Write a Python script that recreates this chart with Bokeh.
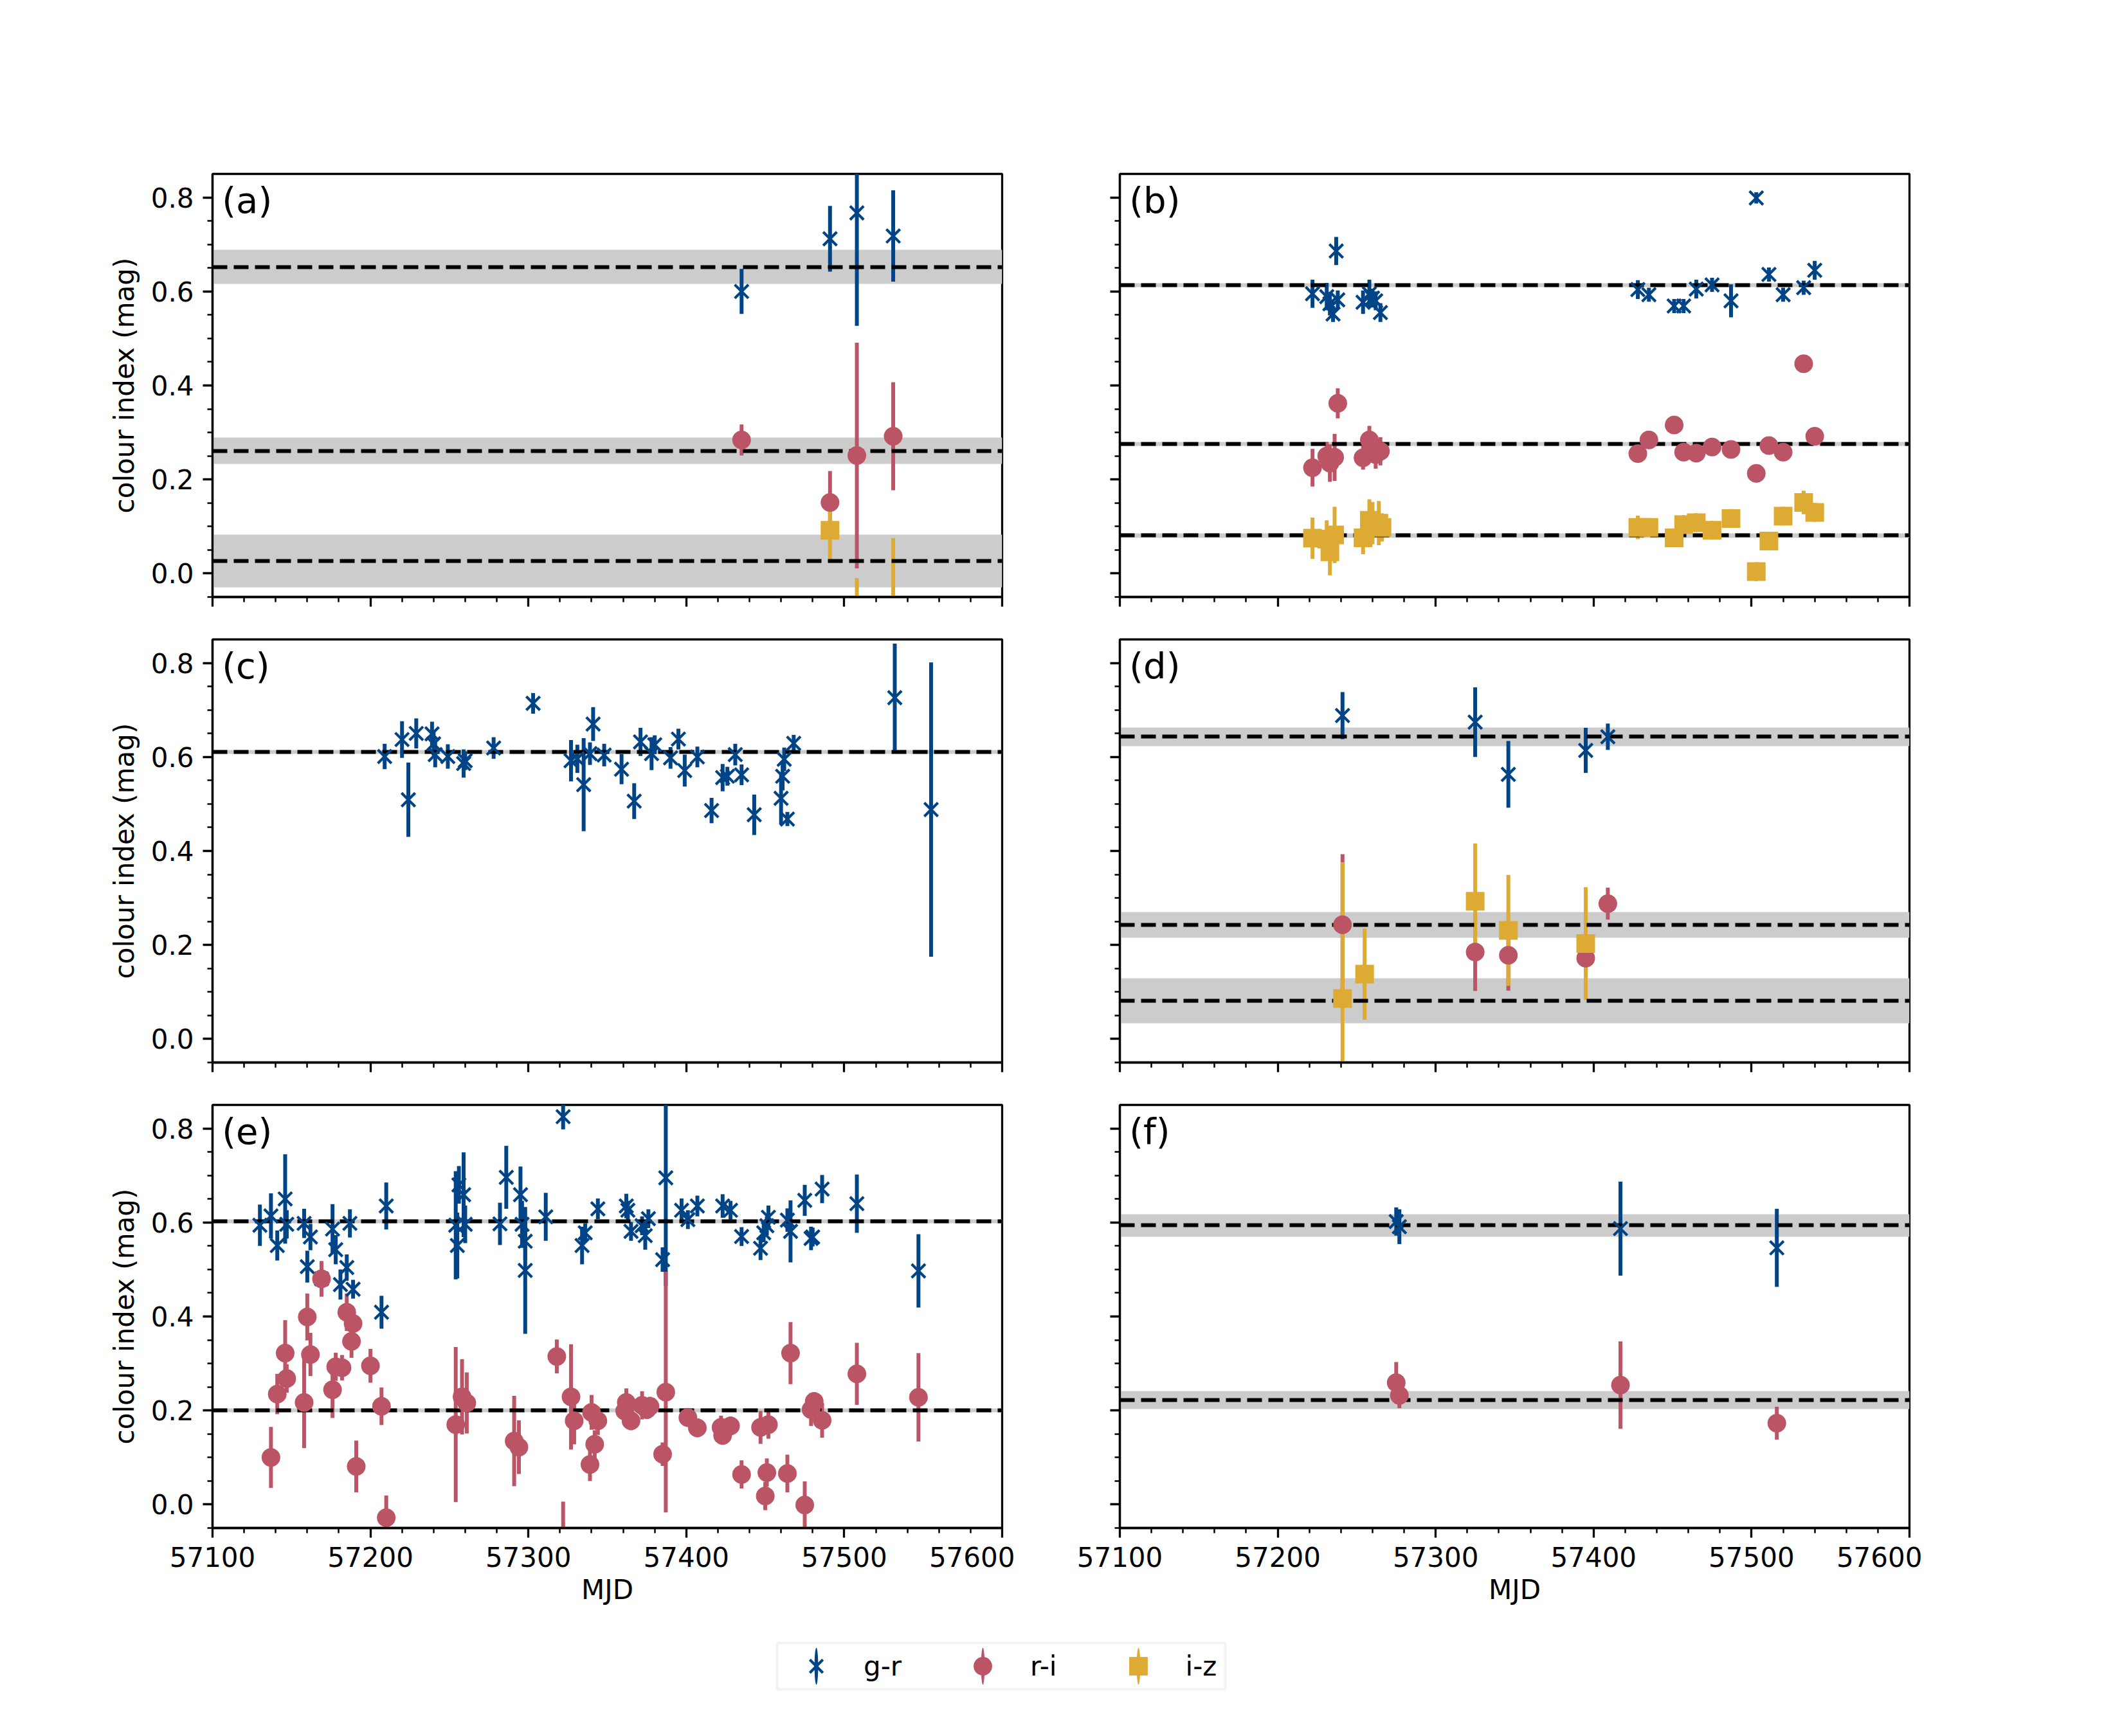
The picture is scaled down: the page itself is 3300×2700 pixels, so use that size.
import numpy as np
from bokeh.plotting import figure
from bokeh.layouts import column, row
from bokeh.models import (Range1d, SingleIntervalTicker, PrintfTickFormatter, Label,
                          Legend, LegendItem, ColumnDataSource, BoxAnnotation)
from bokeh.embed import file_html
from bokeh.resources import INLINE

# ---------------- data ----------------
# panel (a)
a_gr_mjd = [57435, 57491, 57508, 57531]
a_gr_val = [0.600, 0.712, 0.767, 0.718]
a_gr_err = [0.048, 0.070, 0.240, 0.097]
a_ri_mjd = [57435, 57491, 57508, 57531]
a_ri_val = [0.284, 0.151, 0.251, 0.292]
a_ri_err = [0.033, 0.067, 0.240, 0.115]
a_iz_mjd = [57491, 57508, 57531]
a_iz_val = [0.092, -0.300, -0.120]
a_iz_err = [0.065, 0.290, 0.195]
a_mean = [0.652, 0.261, 0.026]
a_std = [0.036, 0.028, 0.056]

# panel (b)
b_gr_mjd = [57222, 57231, 57233, 57235, 57237, 57238, 57254, 57258, 57260, 57262, 57265,
            57428, 57435, 57451, 57457, 57465, 57475, 57487, 57503, 57511, 57520, 57533, 57540]
b_gr_val = [0.595, 0.589, 0.574, 0.552, 0.686, 0.582, 0.577, 0.595, 0.586, 0.580, 0.555,
            0.604, 0.593, 0.569, 0.569, 0.605, 0.614, 0.580, 0.799, 0.636, 0.593, 0.608, 0.645]
b_gr_err = [0.030, 0.029, 0.025, 0.017, 0.030, 0.020, 0.025, 0.030, 0.020, 0.020, 0.020,
            0.020, 0.015, 0.015, 0.015, 0.020, 0.015, 0.035, 0.012, 0.015, 0.015, 0.015, 0.020]
b_ri_mjd = [57222, 57231, 57233, 57236, 57238, 57254, 57258, 57260, 57262, 57265,
            57428, 57435, 57451, 57457, 57465, 57475, 57487, 57503, 57511, 57520, 57533, 57540]
b_ri_val = [0.225, 0.250, 0.235, 0.247, 0.362, 0.246, 0.284, 0.269, 0.253, 0.260,
            0.255, 0.284, 0.316, 0.258, 0.256, 0.269, 0.264, 0.213, 0.272, 0.258, 0.446, 0.292]
b_ri_err = [0.040, 0.030, 0.040, 0.050, 0.032, 0.025, 0.030, 0.030, 0.030, 0.030,
            0.010, 0.010, 0.010, 0.010, 0.010, 0.010, 0.010, 0.010, 0.010, 0.010, 0.010, 0.010]
b_iz_mjd = [57222, 57231, 57233, 57236, 57254, 57258, 57260, 57264, 57266,
            57428, 57435, 57451, 57457, 57465, 57475, 57487, 57503, 57511, 57520, 57533, 57540]
b_iz_val = [0.075, 0.073, 0.046, 0.082, 0.076, 0.113, 0.107, 0.107, 0.098,
            0.098, 0.098, 0.076, 0.104, 0.108, 0.092, 0.117, 0.004, 0.069, 0.122, 0.151, 0.130]
b_iz_err = [0.044, 0.040, 0.050, 0.060, 0.035, 0.045, 0.045, 0.047, 0.030,
            0.025, 0.020, 0.020, 0.020, 0.020, 0.020, 0.020, 0.020, 0.010, 0.020, 0.025, 0.020]
b_mean = [0.613, 0.275, 0.081]
b_std = [0.004, 0.004, 0.005]

# panel (c)
c_gr_mjd = [57209, 57220, 57224, 57229, 57239, 57240, 57241, 57249, 57259, 57260,
            57278, 57303, 57327, 57331, 57335, 57339, 57341, 57348, 57359, 57367,
            57371, 57378, 57380, 57390, 57395, 57399, 57407, 57416, 57423, 57426,
            57431, 57435, 57443, 57460, 57461, 57462, 57464, 57468, 57532, 57555]
c_gr_val = [0.601, 0.637, 0.509, 0.650, 0.649, 0.628, 0.605, 0.601, 0.586, 0.592,
            0.619, 0.714, 0.592, 0.596, 0.541, 0.607, 0.670, 0.604, 0.574, 0.506,
            0.632, 0.607, 0.626, 0.598, 0.638, 0.571, 0.600, 0.486, 0.556, 0.559,
            0.605, 0.562, 0.477, 0.512, 0.559, 0.595, 0.468, 0.629, 0.726, 0.488]
c_gr_err = [0.027, 0.039, 0.079, 0.032, 0.026, 0.025, 0.027, 0.026, 0.030, 0.020,
            0.023, 0.022, 0.044, 0.030, 0.099, 0.024, 0.036, 0.024, 0.032, 0.038,
            0.030, 0.035, 0.020, 0.023, 0.022, 0.034, 0.022, 0.027, 0.029, 0.020,
            0.023, 0.022, 0.043, 0.056, 0.030, 0.025, 0.015, 0.018, 0.115, 0.313]
c_mean = [0.611]
c_std = [0.004]

# panel (d)
d_gr_mjd = [57241, 57325, 57346, 57395, 57409]
d_gr_val = [0.688, 0.674, 0.563, 0.614, 0.643]
d_gr_err = [0.050, 0.074, 0.071, 0.048, 0.028]
d_ri_mjd = [57241, 57325, 57346, 57395, 57409]
d_ri_val = [0.243, 0.185, 0.178, 0.172, 0.288]
d_ri_err = [0.150, 0.083, 0.075, 0.030, 0.034]
d_iz_mjd = [57241, 57255, 57325, 57346, 57395]
d_iz_val = [0.086, 0.138, 0.293, 0.231, 0.203]
d_iz_err = [0.290, 0.097, 0.123, 0.118, 0.120]
d_mean = [0.643, 0.243, 0.081]
d_std = [0.020, 0.027, 0.048]

# panel (e)
e_gr_mjd = [57130, 57137, 57141, 57146, 57147, 57158, 57160, 57162, 57169, 57176,
            57178, 57181, 57185, 57187, 57189, 57207, 57210, 57254, 57255, 57256,
            57259, 57260, 57282, 57286, 57295, 57296, 57298, 57298, 57311, 57322,
            57334, 57336, 57344, 57362, 57363, 57365, 57372, 57374, 57376, 57385,
            57387, 57397, 57401, 57407, 57423, 57428, 57435, 57447, 57449, 57451,
            57452, 57464, 57466, 57475, 57479, 57480, 57486, 57508, 57547]
e_gr_val = [0.594, 0.614, 0.551, 0.650, 0.596, 0.598, 0.506, 0.569, 0.480, 0.586,
            0.542, 0.468, 0.504, 0.598, 0.458, 0.409, 0.635, 0.594, 0.551, 0.680,
            0.659, 0.596, 0.597, 0.696, 0.659, 0.596, 0.560, 0.498, 0.612, 0.825,
            0.551, 0.578, 0.629, 0.635, 0.626, 0.581, 0.593, 0.572, 0.608, 0.521,
            0.695, 0.626, 0.606, 0.635, 0.635, 0.626, 0.570, 0.545, 0.578, 0.593,
            0.611, 0.605, 0.581, 0.647, 0.566, 0.569, 0.671, 0.640, 0.497]
e_gr_err = [0.044, 0.048, 0.032, 0.095, 0.030, 0.031, 0.034, 0.028, 0.020, 0.053,
            0.031, 0.032, 0.028, 0.030, 0.020, 0.035, 0.050, 0.115, 0.070, 0.040,
            0.090, 0.040, 0.045, 0.067, 0.060, 0.050, 0.040, 0.135, 0.051, 0.027,
            0.040, 0.020, 0.022, 0.026, 0.020, 0.020, 0.020, 0.030, 0.020, 0.026,
            0.230, 0.025, 0.020, 0.022, 0.025, 0.020, 0.020, 0.025, 0.020, 0.020,
            0.025, 0.025, 0.066, 0.033, 0.025, 0.020, 0.030, 0.062, 0.078]
e_ri_mjd = [57137, 57141, 57146, 57147, 57158, 57160, 57162, 57169, 57176, 57178,
            57182, 57185, 57188, 57189, 57191, 57200, 57207, 57210, 57254, 57258,
            57261, 57291, 57294, 57318, 57322, 57327, 57329, 57339, 57340, 57342,
            57344, 57361, 57362, 57365, 57372, 57375, 57377, 57385, 57387, 57401,
            57407, 57422, 57423, 57428, 57435, 57447, 57450, 57451, 57452, 57464,
            57466, 57475, 57479, 57481, 57486, 57508, 57547]
e_ri_val = [0.100, 0.235, 0.322, 0.268, 0.217, 0.399, 0.319, 0.480, 0.244, 0.293,
            0.291, 0.409, 0.347, 0.385, 0.081, 0.295, 0.209, -0.028, 0.170, 0.229,
            0.216, 0.135, 0.122, 0.315, -0.100, 0.229, 0.178, 0.085, 0.196, 0.128,
            0.178, 0.199, 0.217, 0.178, 0.211, 0.202, 0.209, 0.107, 0.239, 0.185,
            0.163, 0.164, 0.147, 0.167, 0.064, 0.164, 0.018, 0.068, 0.170, 0.066,
            0.322, -0.001, 0.202, 0.219, 0.179, 0.278, 0.228]
e_ri_err = [0.065, 0.043, 0.070, 0.030, 0.097, 0.050, 0.046, 0.038, 0.060, 0.030,
            0.027, 0.040, 0.035, 0.030, 0.055, 0.036, 0.040, 0.047, 0.165, 0.080,
            0.065, 0.096, 0.057, 0.036, 0.106, 0.112, 0.050, 0.035, 0.037, 0.030,
            0.030, 0.020, 0.030, 0.020, 0.030, 0.020, 0.020, 0.025, 0.256, 0.020,
            0.020, 0.025, 0.020, 0.020, 0.030, 0.035, 0.030, 0.030, 0.030, 0.040,
            0.066, 0.050, 0.035, 0.020, 0.037, 0.066, 0.094]
e_mean = [0.603, 0.200]
e_std = [0.004, 0.004]

# panel (f)
f_gr_mjd = [57275, 57277, 57417, 57516]
f_gr_val = [0.602, 0.591, 0.587, 0.546]
f_gr_err = [0.030, 0.037, 0.100, 0.083]
f_ri_mjd = [57275, 57277, 57417, 57516]
f_ri_val = [0.259, 0.232, 0.254, 0.173]
f_ri_err = [0.044, 0.027, 0.093, 0.035]
f_mean = [0.594, 0.222]
f_std = [0.024, 0.019]

series_labels = ["g-r", "r-i", "i-z"]
panel_tags = ["(a)", "(b)", "(c)", "(d)", "(e)", "(f)"]

# ---------------- style ----------------
BLUE, RED, GOLD = "#004488", "#BB5566", "#DDAA33"
BAND = "#cccccc"
FONT = "DejaVu Sans"
FW, FH = 1228, 658
XR = (57100, 57600)
YR = (-0.05, 0.85)
TICK_FS = "42px"
X_SIZE, X_LW, M_SIZE = 30, 4.2, 29


def style_axes(p, xlabels, ylabels):
    for ax in (p.below[0], p.left[0]):
        ax.axis_line_color = "black"
        ax.axis_line_width = 3.3
        ax.major_tick_line_color = "black"
        ax.major_tick_line_width = 3.3
        ax.major_tick_out = 15
        ax.major_tick_in = 0
        ax.minor_tick_line_color = "black"
        ax.minor_tick_line_width = 2.5
        ax.minor_tick_out = 8
        ax.minor_tick_in = 0
        ax.major_label_text_font = FONT
        ax.major_label_text_color = "black"
        ax.major_label_text_font_size = TICK_FS
        ax.major_label_standoff = 14
        ax.axis_label_text_font = FONT
        ax.axis_label_text_font_size = TICK_FS
        ax.axis_label_text_font_style = "normal"
        ax.axis_label_text_color = "black"
    xa, ya = p.below[0], p.left[0]
    xa.ticker = SingleIntervalTicker(interval=100, num_minor_ticks=5)
    ya.ticker = SingleIntervalTicker(interval=0.2, num_minor_ticks=4)
    ya.formatter = PrintfTickFormatter(format="%.1f")
    if xlabels:
        xa.axis_label = "MJD"
        xa.axis_label_standoff = 8
    else:
        # ticks only, labels not drawn
        xa.major_label_text_color = None
        xa.major_label_text_alpha = 0
        xa.major_label_text_font_size = "2px"
        xa.major_label_standoff = 0
    if ylabels:
        ya.axis_label = "colour index (mag)"
        ya.axis_label_standoff = 14
    else:
        ya.major_label_text_color = None
        ya.major_label_text_alpha = 0
        ya.major_label_text_font_size = "2px"
        ya.major_label_standoff = 0


def panel(tag, data, means, stds, borders, xlabels, ylabels):
    p = figure(frame_width=FW, frame_height=FH,
               x_range=Range1d(*XR), y_range=Range1d(*YR),
               output_backend="svg", toolbar_location=None,
               min_border_left=borders[0], min_border_right=borders[1],
               min_border_top=borders[2], min_border_bottom=borders[3])
    p.grid.visible = False
    p.outline_line_color = "black"
    p.outline_line_width = 3.3
    p.background_fill_color = "white"
    style_axes(p, xlabels, ylabels)

    m = np.asarray(means)
    s = np.asarray(stds)
    p.hstrip(y0=m - s, y1=m + s, fill_color=BAND, fill_alpha=1.0, line_color=None)

    styles = [(BLUE, "x"), (RED, "circle"), (GOLD, "square")]
    for d, (col, mk) in zip(data, styles):
        if d is None:
            continue
        x, y, e = (np.asarray(v, dtype=float) for v in d)
        p.segment(x0=x, y0=y - e, x1=x, y1=y + e, line_color=col, line_width=6)

    p.hspan(y=m, line_color="black", line_width=6, line_dash="23 10")

    for d, (col, mk) in zip(data, styles):
        if d is None:
            continue
        x, y, e = (np.asarray(v, dtype=float) for v in d)
        if mk == "x":
            p.scatter(x=x, y=y, marker="x", size=X_SIZE, line_color=col, line_width=X_LW,
                      fill_color=None)
        else:
            p.scatter(x=x, y=y, marker=mk, size=M_SIZE, fill_color=col, line_color=None)

    p.add_layout(Label(x=57106, y=0.838, text=tag, text_font=FONT, text_font_size="56px",
                       text_color="black", text_baseline="top", text_align="left"))
    return p


pa = panel(panel_tags[0], [(a_gr_mjd, a_gr_val, a_gr_err), (a_ri_mjd, a_ri_val, a_ri_err),
                           (a_iz_mjd, a_iz_val, a_iz_err)], a_mean, a_std,
           (330, 20, 270, 30), False, True)
pb = panel(panel_tags[1], [(b_gr_mjd, b_gr_val, b_gr_err), (b_ri_mjd, b_ri_val, b_ri_err),
                           (b_iz_mjd, b_iz_val, b_iz_err)], b_mean, b_std,
           (163, 20, 270, 30), False, False)
pc = panel(panel_tags[2], [(c_gr_mjd, c_gr_val, c_gr_err), None, None], c_mean, c_std,
           (330, 20, 36, 30), False, True)
pd_ = panel(panel_tags[3], [(d_gr_mjd, d_gr_val, d_gr_err), (d_ri_mjd, d_ri_val, d_ri_err),
                            (d_iz_mjd, d_iz_val, d_iz_err)], d_mean, d_std,
            (163, 20, 36, 30), False, False)
pe = panel(panel_tags[4], [(e_gr_mjd, e_gr_val, e_gr_err), (e_ri_mjd, e_ri_val, e_ri_err), None],
           e_mean, e_std, (330, 20, 36, 160), True, True)
pf = panel(panel_tags[5], [(f_gr_mjd, f_gr_val, f_gr_err), (f_ri_mjd, f_ri_val, f_ri_err), None],
           f_mean, f_std, (163, 20, 36, 160), True, False)

# ---------------- legend strip (1 data unit = 1 px) ----------------
LW_, LH_ = 2990, 110
lg = figure(width=LW_, height=LH_, x_range=Range1d(0, LW_), y_range=Range1d(0, LH_),
            output_backend="svg", toolbar_location=None,
            x_axis_location=None, y_axis_location=None, min_border=0)
lg.grid.visible = False
lg.outline_line_color = None

# legend frame
lg.add_layout(BoxAnnotation(left=1208, right=1905, bottom=19, top=91,
                            fill_color="white", fill_alpha=1.0,
                            line_color="#d6d6d6", line_width=4, level="underlay"))

# legend proxies lie outside the visible range
proxy = ColumnDataSource(dict(x=[-500.0], y=[-500.0]))
items = []
for lab, col, mk in zip(series_labels, [BLUE, RED, GOLD], ["x", "circle", "square"]):
    bar = lg.ellipse(x="x", y="y", width=6, height=60, width_units="screen",
                     height_units="screen", source=proxy, fill_color=col, line_color=None)
    if mk == "x":
        mark = lg.scatter(x="x", y="y", source=proxy, marker="x", size=X_SIZE,
                          line_color=col, line_width=X_LW, fill_color=None)
    else:
        mark = lg.scatter(x="x", y="y", source=proxy, marker=mk, size=M_SIZE,
                          fill_color=col, line_color=None)
    items.append(LegendItem(label=lab, renderers=[bar, mark]))

legend = Legend(items=items, orientation="horizontal", location=(1233, 19),
                glyph_width=72, glyph_height=72, label_standoff=38, spacing=90,
                padding=0, margin=0,
                label_text_font=FONT, label_text_font_size=TICK_FS, label_text_color="black",
                border_line_color=None, background_fill_alpha=0)
lg.add_layout(legend, "center")

layout = column(row(pa, pb), row(pc, pd_), row(pe, pf), lg)

open("out.html", "w").write(file_html(layout, INLINE))
